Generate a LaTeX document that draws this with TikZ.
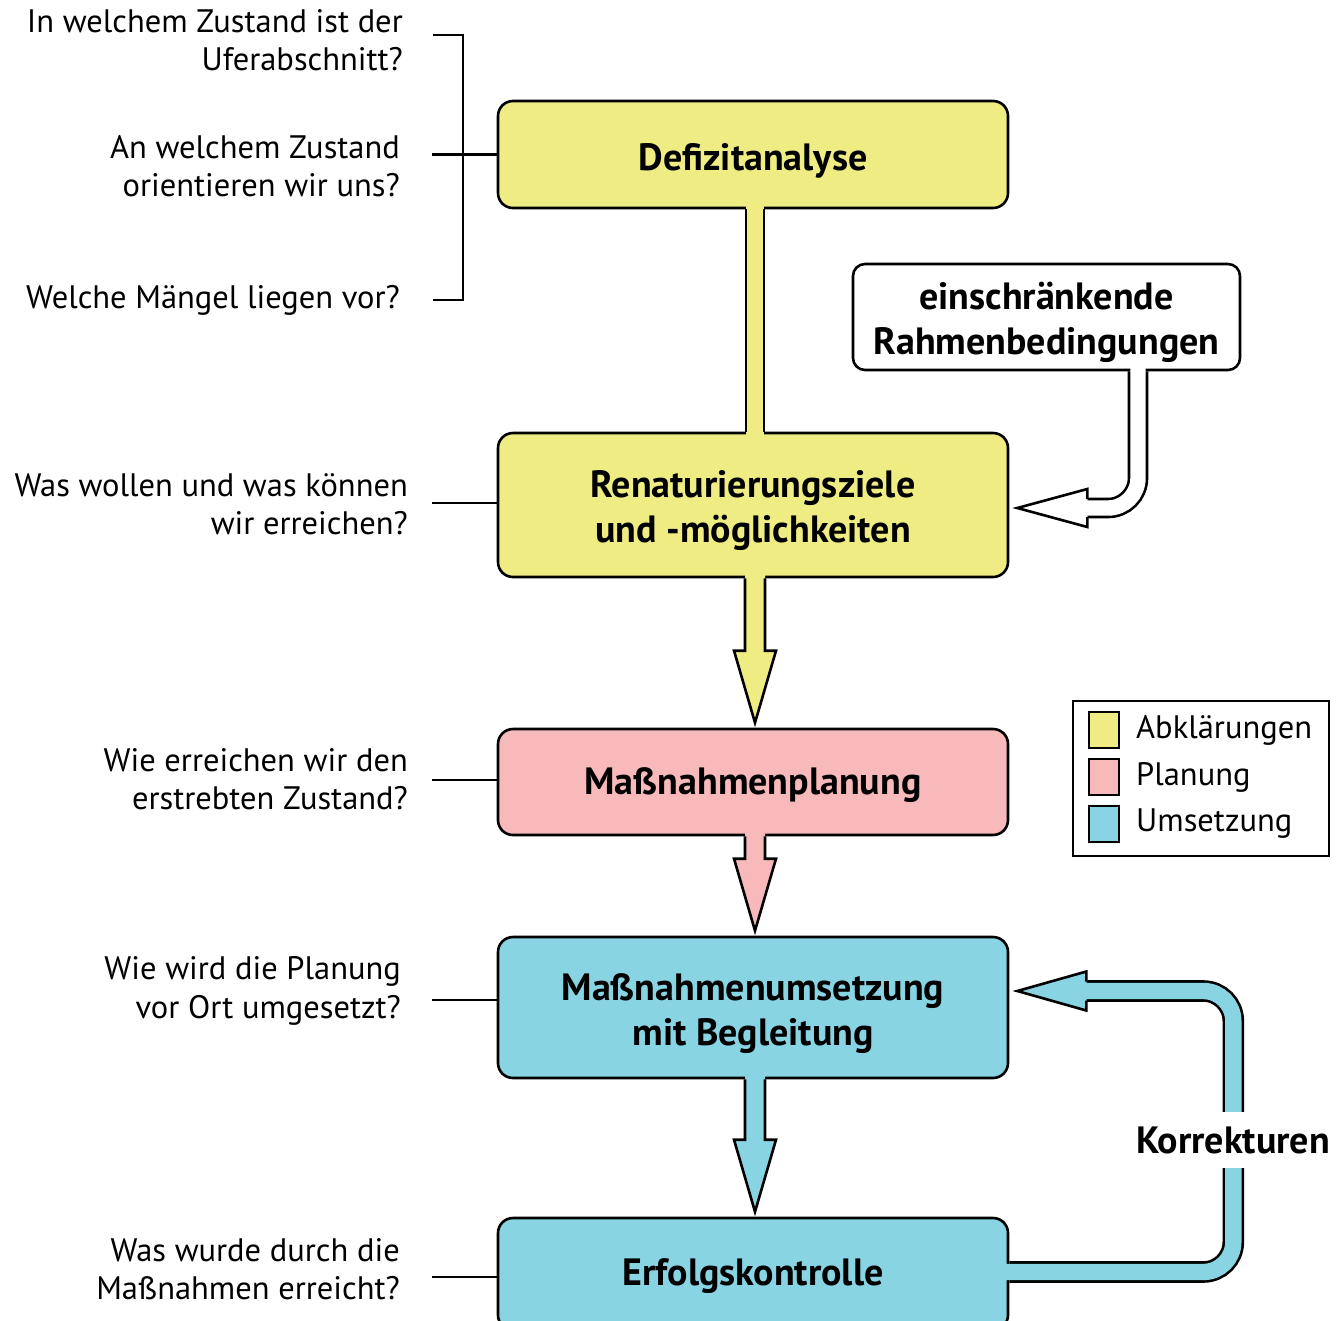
\documentclass[tikz,border=0pt]{standalone}
\usepackage{fontspec}
\setmainfont{PT Sans}
\usetikzlibrary{calc}
\definecolor{cyel}{RGB}{240,236,132}
\definecolor{cpink}{RGB}{247,185,186}
\definecolor{cblue}{RGB}{137,212,227}
\newcommand\bs{\rule[-8pt]{0pt}{47pt}}
\newcommand\fatarrow[3]{%
  \fill[#3] ($(#1.south)+(-8,-6)$) -- ($(#2.north)+(-8,-77)$) -- ($(#2.north)+(-19,-77)$) -- ($(#2.north)+(2,-5)$) -- ($(#2.north)+(23,-77)$) -- ($(#2.north)+(12,-77)$) -- ($(#1.south)+(12,-6)$) -- cycle;
  \draw[bord] ($(#1.south)+(-8,0)$) -- ($(#2.north)+(-8,-77)$) -- ($(#2.north)+(-19,-77)$) -- ($(#2.north)+(2,-5)$) -- ($(#2.north)+(23,-77)$) -- ($(#2.north)+(12,-77)$) -- ($(#1.south)+(12,0)$);
}
\begin{document}
\begin{tikzpicture}[x=1pt,y=-1pt,
  bord/.style={line width=2.6pt, line join=miter},
  box/.style={draw, line width=2.6pt, rounded corners=15pt, minimum width=510pt, align=center,
    font=\fontsize{38}{45}\selectfont\bfseries, inner sep=0pt},
  quest/.style={anchor=east, align=right, inner sep=0pt, font=\fontsize{32.5}{38.5}\selectfont},
  conn/.style={line width=2.2pt},
  sw/.style={draw, line width=1.5pt, minimum width=30pt, minimum height=36pt, inner sep=0pt},
  legtxt/.style={anchor=west, inner sep=0pt, font=\fontsize{32.5}{38}\selectfont}
]
\useasboundingbox (0,0) rectangle (1343,1320);

% boxes
\node[box, fill=cyel, minimum height=107pt] (def) at (753,154.5) {\bs Defizitanalyse};
\node[box, fill=cyel, minimum height=144pt] (ren) at (753,505) {\bs Renaturierungsziele\\und -möglichkeiten};
\node[box, fill=cpink, minimum height=106pt] (plan) at (753,782) {\rule[-8pt]{0pt}{41pt}Maßnahmenplanung};
\node[box, fill=cblue, minimum height=141pt] (ums) at (753,1007.5) {\bs Maßnahmenumsetzung\\mit Begleitung};
\node[box, fill=cblue, minimum height=112pt] (erf) at (753,1274) {\rule[-8pt]{0pt}{40pt}Erfolgskontrolle};
\node[box, fill=white, minimum width=387pt, minimum height=106pt, rounded corners=12pt] (rah) at (1046.5,317) {\bs einschränkende\\Rahmenbedingungen};

% stem between first two boxes
\fill[cyel] ($(def.south)+(-7,-6)$) rectangle ($(ren.north)+(11,6)$);
\draw[bord] ($(def.south)+(-7,0)$) -- ($(ren.north)+(-7,0)$);
\draw[bord] ($(def.south)+(11,0)$) -- ($(ren.north)+(11,0)$);

% fat arrows
\fatarrow{ren}{plan}{cyel}
\fatarrow{plan}{ums}{cpink}
\fatarrow{ums}{erf}{cblue}

% white arrow from Rahmenbedingungen
\coordinate (ra) at ($(rah.south)+(91.5,0)$);
\coordinate (rt) at ($(ren.east)+(8,3)$);
\draw[line width=20.6pt, rounded corners=30pt] (ra) -- (ra |- rt) -- ($(rt)+(70,0)$);
\fill[white] ($(rt)+(70,-19)$) -- (rt) -- ($(rt)+(70,19)$) -- cycle;
\draw[bord] ($(rt)+(70,-9)$) -- ($(rt)+(70,-19)$) -- (rt) -- ($(rt)+(70,19)$) -- ($(rt)+(70,9)$);
\draw[white, line width=15.4pt, rounded corners=30pt] ($(ra)+(0,-4)$) -- (ra |- rt) -- ($(rt)+(64,0)$);

% Korrekturen arrow
\coordinate (ks) at ($(erf.east)+(0,-2)$);
\coordinate (kt) at ($(ums.east)+(8,-16.5)$);
\draw[line width=21.6pt, rounded corners=30pt] (ks) -- ($(ks)+(224,0)$) -- ($(kt)+(216,0)$) -- ($(kt)+(69,0)$);
\fill[cblue] ($(kt)+(69,-19.5)$) -- (kt) -- ($(kt)+(69,19.5)$) -- cycle;
\draw[bord] ($(kt)+(69,-9.5)$) -- ($(kt)+(69,-19.5)$) -- (kt) -- ($(kt)+(69,19.5)$) -- ($(kt)+(69,9.5)$);
\draw[cblue, line width=16.4pt, rounded corners=30pt] ($(ks)+(-8,0)$) -- ($(ks)+(224,0)$) -- ($(kt)+(216,0)$) -- ($(kt)+(63,0)$);
\node[fill=white, inner sep=0pt, minimum height=56pt, font=\fontsize{38}{40}\selectfont\bfseries] (kor) at (1233,1140) {Korrekturen};

% questions
\node[quest] (q1) at (403,40) {In welchem Zustand ist der\\Uferabschnitt?};
\node[quest] (q2) at (400,166) {An welchem Zustand\\orientieren wir uns?};
\node[quest] (q3) at (400,300) {Welche Mängel liegen vor?};
\node[quest] (q4) at (408,504) {Was wollen und was können\\wir erreichen?};
\node[quest] (q5) at (408,779) {Wie erreichen wir den\\erstrebten Zustand?};
\node[quest] (q6) at (401,991) {Wie wird die Planung\\vor Ort umgesetzt?};
\node[quest] (q7) at (400,1269) {Was wurde durch die\\Maßnahmen erreicht?};

% connectors to questions
\draw[conn] (433,35) -- (463,35) -- (463,300) -- (433,300);
\draw[conn] (def.west) -- ++(-65,0);
\draw[conn] ([yshift=2pt]ren.west) -- ++(-65,0);
\draw[conn] ([yshift=2pt]plan.west) -- ++(-65,0);
\draw[conn] ([yshift=7.5pt]ums.west) -- ++(-65,0);
\draw[conn] ([yshift=-3pt]erf.west) -- ++(-65,0);

% legend
\node[draw, line width=1.2pt, minimum width=256pt, minimum height=155pt, inner sep=0pt] (leg) at (1201,778.5) {};
\node[sw, fill=cyel] (s1) at (1104,730) {};
\node[sw, fill=cpink] (s2) at (1104,777) {};
\node[sw, fill=cblue] (s3) at (1104,824) {};
\node[legtxt] (l1) at (1136,730) {Abklärungen};
\node[legtxt] (l2) at (1136,777) {Planung};
\node[legtxt] (l3) at (1136,824) {Umsetzung};
\end{tikzpicture}
\end{document}
